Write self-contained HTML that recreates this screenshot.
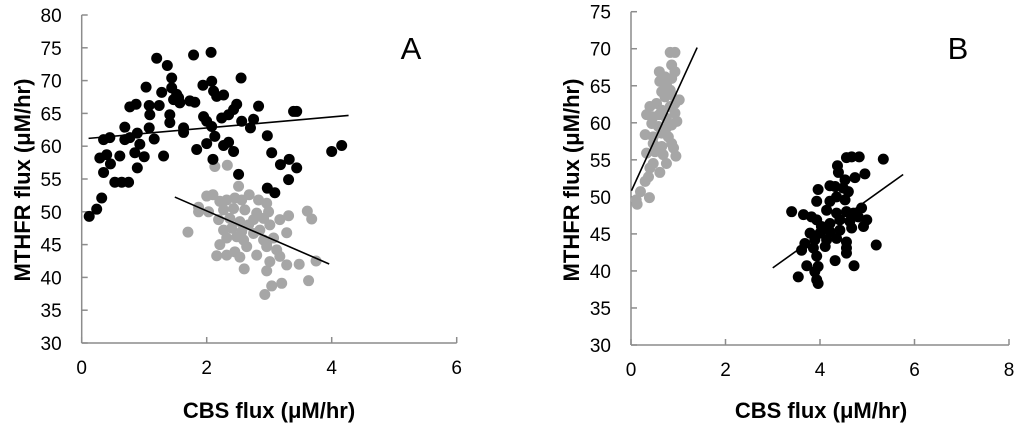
<!DOCTYPE html>
<html><head><meta charset="utf-8"><style>
html,body{margin:0;padding:0;background:#fff;}
svg{display:block;font-family:"Liberation Sans",sans-serif;}
</style></head><body>
<svg id="chart" width="1024" height="431"></svg>
<script>
// Panel A data
const aBlackX=[1.2,1.37,1.79,2.07,2.55,2.08,1.44,1.03,1.94,1.28,1.44,1.52,1.55,1.57,1.47,2.11,2.27,2.16,0.77,0.87,1.08,1.24,1.09,1.41,1.73,1.81,2.83,2.48,2.43,2.35,2.24,1.95,2.0,1.41,1.63,2.08,2.13,2.56,2.75,2.7,3.44,3.39,2.97,0.69,1.08,0.89,0.77,0.69,0.35,0.45,1.16,0.93,2.0,2.27,2.35,1.84,1.63,4.16,4.0,0.12,0.24,0.32,0.29,0.61,0.46,0.35,0.53,0.64,0.75,0.85,1.0,0.89,1.31,2.1,2.51,2.97,3.09,3.18,3.32,3.44,3.31,2.43,3.04,0.4];
const aBlackY=[73.4,72.3,73.9,74.3,70.4,69.9,70.4,69.0,69.3,68.2,68.9,67.9,67.4,66.6,67.1,68.4,67.8,67.6,66.0,66.4,66.2,66.2,64.8,64.8,66.9,66.7,66.1,66.4,65.6,64.8,64.3,64.5,63.8,63.6,62.8,63.0,61.5,63.8,64.1,62.8,65.3,65.3,61.6,62.9,62.8,62.0,61.3,61.0,61.0,61.3,61.1,60.3,60.4,60.1,60.6,59.5,62.1,60.1,59.2,49.3,50.4,52.1,58.2,58.5,57.3,56.0,54.5,54.5,54.5,59.0,58.4,56.7,58.5,58.0,55.7,53.6,52.9,57.2,58.0,56.7,54.9,59.2,59.0,58.7];
const aGrayX=[2.13,2.33,2.0,2.1,2.51,2.68,1.87,2.03,1.87,2.21,2.32,2.45,2.56,2.83,2.96,2.27,2.43,2.61,2.8,2.99,2.91,3.17,3.31,3.61,3.68,2.19,2.37,2.53,2.75,3.01,1.7,2.27,2.4,2.56,2.75,3.28,2.32,2.59,2.91,3.07,2.21,2.64,2.96,3.12,2.16,2.32,2.45,2.53,2.8,3.01,3.17,3.28,3.48,3.75,2.6,2.96,3.04,3.2,3.63,2.93,2.85,2.96,2.67,2.48];
const aGrayY=[56.9,57.1,52.4,52.6,53.9,52.6,50.7,50.0,50.0,51.6,51.8,52.1,51.8,51.8,51.3,50.3,50.5,50.3,49.8,50.0,49.0,48.8,49.4,50.1,48.9,48.8,49.0,48.5,48.8,48.0,46.9,47.2,47.5,47.0,46.7,46.8,46.0,45.7,45.7,46.0,45.0,44.7,44.7,44.2,43.3,43.4,43.9,43.1,43.4,42.4,43.2,41.9,42.0,42.5,41.3,41.0,38.7,39.1,39.5,37.4,47.2,45.2,48.0,46.2];
const aTrendBlack=[61.1,0.84,0.11,4.27]; // intercept, slope, xStart, xEnd
const aTrendGray=[58.4,-4.13,1.49,3.96];
const aXTicks=[0,2,4,6];
const aYTicks=[30,35,40,45,50,55,60,65,70,75,80];
// Panel B data
const bGrayX=[0.83,0.93,0.86,0.6,0.72,0.86,0.93,0.61,0.75,0.65,0.83,0.72,0.86,1.02,0.93,0.4,0.54,0.65,0.83,0.33,0.47,0.6,0.75,0.93,0.97,0.44,0.58,0.75,0.86,0.3,0.47,0.65,0.79,0.47,0.65,0.86,0.9,0.33,0.51,0.68,0.95,0.47,0.75,0.61,0.4,0.37,0.3,0.2,0.39,0.11,0.13];
const bGrayY=[69.5,69.5,67.8,66.9,66.2,66.0,66.9,65.6,65.1,64.2,64.4,63.5,63.8,63.1,62.6,62.2,62.6,61.7,62.2,61.1,60.8,61.1,60.6,61.3,60.2,59.9,59.5,59.3,59.7,58.4,58.1,58.6,58.1,57.2,56.8,57.2,56.6,55.9,56.1,55.7,55.5,54.5,54.5,53.3,53.9,52.7,52.1,50.7,49.9,49.6,49.0];
const bBlackX=[5.34,4.56,4.67,4.83,4.37,4.39,4.74,4.95,4.53,4.21,4.32,4.49,4.6,3.96,4.35,4.21,4.53,3.93,3.4,3.65,3.82,4.88,4.99,4.81,4.71,4.14,4.35,4.56,3.93,4.03,4.21,4.42,4.63,3.79,4.0,4.21,4.42,4.67,4.92,3.68,3.89,4.14,4.35,4.56,3.61,3.86,4.11,4.56,5.19,3.93,4.56,3.72,3.96,4.32,4.72,3.54,3.89,3.93,3.96];
const bBlackY=[55.1,55.3,55.4,55.4,54.2,53.3,52.6,53.1,52.3,51.5,51.4,51.2,50.7,51.0,50.0,49.4,49.6,49.4,48.0,47.6,47.3,48.5,46.9,47.3,47.8,48.2,47.8,48.0,46.9,46.0,46.4,46.9,46.7,45.1,45.1,45.3,45.5,45.8,46.0,43.7,44.2,44.2,44.4,43.9,42.8,43.1,43.3,43.1,43.5,42.0,42.4,40.7,40.6,41.4,40.7,39.2,39.9,38.8,38.3];
const bTrendGray=[50.7,13.9,0.01,1.4];
const bTrendBlack=[26.7,4.57,3.0,5.76];
const bXTicks=[0,2,4,6,8];
const bYTicks=[30,35,40,45,50,55,60,65,70,75];

const NS="http://www.w3.org/2000/svg";
const svg=document.getElementById('chart');
function mk(tag,attrs,parent){const e=document.createElementNS(NS,tag);for(const k in attrs)e.setAttribute(k,attrs[k]);(parent||svg).appendChild(e);return e;}

function panel(p){
  const g=mk('g',{});
  
  
  const sx=v=>p.x0+(v-p.xmin)/(p.xmax-p.xmin)*(p.x1-p.x0);
  const sy=v=>p.y0-(v-p.ymin)/(p.ymax-p.ymin)*(p.y0-p.y1);
  const ax=mk('g',{stroke:'#8c8c8c','stroke-width':1.5},g);
  
  
  mk('line',{x1:p.x0,y1:p.y0,x2:p.x1,y2:p.y0},ax);
  mk('line',{x1:p.x0,y1:p.y0,x2:p.x0,y2:p.y1},ax);
  p.xt.forEach(t=>{
    mk('line',{x1:sx(t),y1:p.y0,x2:sx(t),y2:p.y0-6},ax);
    const tx=mk('text',{x:sx(t),y:p.y0+31,'text-anchor':'middle','font-size':19,fill:'#000'},g);
    tx.textContent=t;
    
    
  });
  p.yt.forEach(t=>{
    mk('line',{x1:p.x0,y1:sy(t),x2:p.x0+6,y2:sy(t)},ax);
    const tx=mk('text',{x:p.x0-20,y:sy(t)+7,'text-anchor':'end','font-size':19,fill:'#000'},g);
    tx.textContent=t;
    
    
  });
  p.series.forEach(s=>{
    const sg=mk('g',{fill:s.color},g);
    
    
    s.x.forEach((v,i)=>{
      const c=mk('circle',{cx:sx(v),cy:sy(s.y[i]),r:5.5},sg);
      
      
    });
  });
  p.trends.forEach(t=>{
    const [b,m,xa,xb]=t.c;
    const l=mk('line',{x1:sx(xa),y1:sy(b+m*xa),x2:sx(xb),y2:sy(b+m*xb),stroke:'#000','stroke-width':1.6},g);
    
    
  });
  const xt=mk('text',{x:p.xtx,y:418,'text-anchor':'middle','font-size':22,'font-weight':'bold'},g);
  xt.textContent='CBS flux (\u03bcM/hr)';
  
  
  const yt=mk('text',{x:0,y:0,'text-anchor':'middle','font-size':22,'font-weight':'bold',transform:`translate(${p.ytx},${p.yty}) rotate(-90)`},g);
  yt.textContent='MTHFR flux (\u03bcM/hr)';
  
  
  const lb=mk('text',{x:p.lx,y:59,'text-anchor':'middle','font-size':31},g);
  lb.textContent=p.label;
  
  
}

panel({name:'panel-a',x0:81.7,x1:456.7,xmin:0,xmax:6,y0:343,y1:15,ymin:30,ymax:80,xt:aXTicks,yt:aYTicks,
  series:[{name:'gray-series',color:'#a6a6a6',x:aGrayX,y:aGrayY},{name:'black-series',color:'#000',x:aBlackX,y:aBlackY}],
  trends:[{name:'trend-black',c:aTrendBlack},{name:'trend-gray',c:aTrendGray}],
  xtx:269,ytx:30,yty:180,lx:411,label:'A'});
panel({name:'panel-b',x0:631,x1:1009,xmin:0,xmax:8,y0:345,y1:11.7,ymin:30,ymax:75,xt:bXTicks,yt:bYTicks,
  series:[{name:'gray-series',color:'#a6a6a6',x:bGrayX,y:bGrayY},{name:'black-series',color:'#000',x:bBlackX,y:bBlackY}],
  trends:[{name:'trend-gray',c:bTrendGray},{name:'trend-black',c:bTrendBlack}],
  xtx:821,ytx:579,yty:180,lx:958,label:'B'});
</script>
</body></html>
